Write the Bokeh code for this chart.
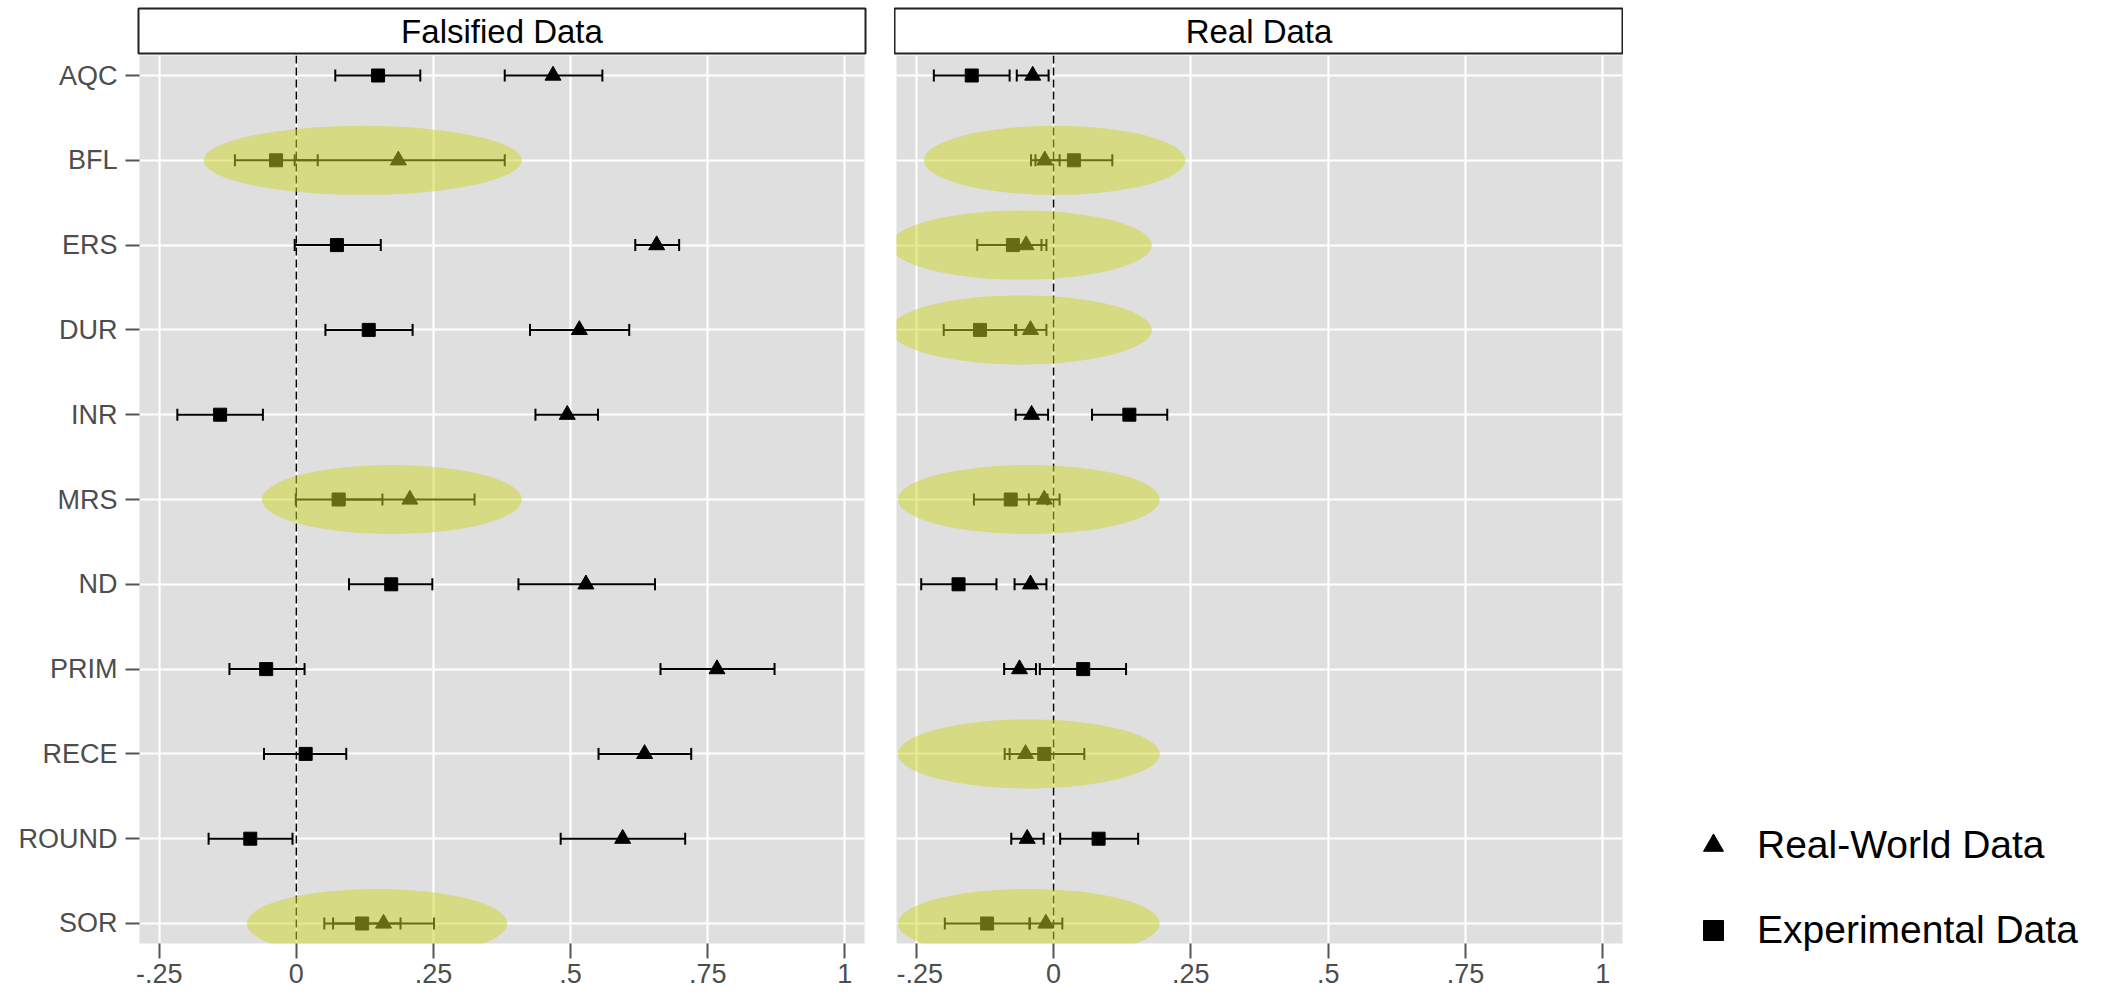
from bokeh.plotting import figure
from bokeh.models import (ColumnDataSource, Range1d, FixedTicker, Whisker, TeeHead,
                          Span, Legend, LegendItem, Label, Grid)
from bokeh.layouts import column, row
from bokeh.embed import file_html
from bokeh.resources import INLINE

# ---------------- data ----------------
categories = ["AQC", "BFL", "ERS", "DUR", "INR", "MRS", "ND", "PRIM", "RECE", "ROUND", "SOR"]
panels = ["Falsified Data", "Real Data"]
series_names = ["Real-World Data", "Experimental Data"]

# Falsified Data panel
fals_rw_est = [0.468, 0.186, 0.657, 0.516, 0.494, 0.207, 0.528, 0.767, 0.635, 0.595, 0.159]
fals_rw_lo = [0.380, -0.003, 0.618, 0.426, 0.436, 0.088, 0.405, 0.664, 0.551, 0.482, 0.067]
fals_rw_hi = [0.558, 0.380, 0.698, 0.607, 0.550, 0.325, 0.654, 0.872, 0.720, 0.709, 0.251]
fals_ex_est = [0.149, -0.037, 0.074, 0.132, -0.139, 0.077, 0.173, -0.055, 0.017, -0.084, 0.120]
fals_ex_lo = [0.071, -0.112, -0.003, 0.053, -0.217, -0.001, 0.096, -0.122, -0.059, -0.160, 0.051]
fals_ex_hi = [0.226, 0.039, 0.154, 0.212, -0.061, 0.157, 0.248, 0.015, 0.091, -0.007, 0.190]

# Real Data panel
real_rw_est = [-0.038, -0.016, -0.050, -0.042, -0.040, -0.017, -0.042, -0.062, -0.051, -0.048, -0.014]
real_rw_lo = [-0.067, -0.041, -0.078, -0.070, -0.069, -0.045, -0.071, -0.090, -0.080, -0.077, -0.043]
real_rw_hi = [-0.009, 0.011, -0.022, -0.013, -0.010, 0.011, -0.013, -0.032, -0.022, -0.018, 0.016]
real_ex_est = [-0.149, 0.037, -0.074, -0.134, 0.138, -0.078, -0.173, 0.054, -0.017, 0.082, -0.121]
real_ex_lo = [-0.218, -0.033, -0.139, -0.200, 0.070, -0.145, -0.241, -0.025, -0.089, 0.012, -0.198]
real_ex_hi = [-0.080, 0.107, -0.013, -0.068, 0.207, -0.011, -0.104, 0.132, 0.056, 0.154, -0.044]

# highlighted (ellipse) rows
hl_fals_cats = ["BFL", "MRS", "SOR"]
hl_fals_center = [0.121, 0.174, 0.147]
hl_fals_width = [0.580, 0.474, 0.475]
hl_real_cats = ["BFL", "ERS", "DUR", "MRS", "RECE", "SOR"]
hl_real_center = [0.002, -0.059, -0.059, -0.045, -0.045, -0.045]
hl_real_width = [0.476, 0.476, 0.476, 0.477, 0.477, 0.477]

x_ticks = [-0.25, 0, 0.25, 0.5, 0.75, 1]
x_tick_labels = ["-.25", "0", ".25", ".5", ".75", "1"]

# ---------------- style ----------------
FONT = "Liberation Sans"
PANEL_BG = "#DFDFDF"
HL_COLOR = (206, 214, 40)
X_RANGE = (-0.286, 1.036)
Y_PAD = 0.236
FRAME_W_L, FRAME_W_R, FRAME_H = 725, 726, 888

ypos = list(range(len(categories)))


def make_panel(rw_est, rw_lo, rw_hi, ex_est, ex_lo, ex_hi, hl_cats, hl_center, hl_width,
               first):
    kw = dict(frame_width=FRAME_W_L if first else FRAME_W_R, frame_height=FRAME_H,
              x_range=Range1d(*X_RANGE),
              y_range=Range1d(len(categories) - 1 + Y_PAD, -Y_PAD),
              output_backend="svg", toolbar_location=None,
              background_fill_color=PANEL_BG, border_fill_color="white",
              outline_line_color=None, min_border=0, min_border_bottom=50)
    if first:
        kw.update(min_border_left=139, min_border_right=32)
    else:
        kw.update(min_border_left=0, min_border_right=480, y_axis_location=None)
    p = figure(**kw)

    # x axis
    p.xaxis.ticker = FixedTicker(ticks=x_ticks)
    p.xaxis.major_label_overrides = {t: l for t, l in zip(x_ticks, x_tick_labels)}
    p.xaxis.axis_line_color = None
    p.xaxis.major_tick_in = 0
    p.xaxis.major_tick_out = 15
    p.xaxis.minor_tick_out = 0
    p.xaxis.minor_tick_in = 0
    p.xaxis.major_tick_line_color = "#555555"
    p.xaxis.major_tick_line_width = 2
    p.xaxis.major_label_standoff = 5
    p.xaxis.major_label_text_font = FONT
    p.xaxis.major_label_text_font_size = "27px"
    p.xaxis.major_label_text_color = "#4D4D4D"
    p.xgrid.ticker = FixedTicker(ticks=x_ticks)
    p.xgrid.grid_line_color = "white"
    p.xgrid.grid_line_width = 2.2

    if first:
        p.yaxis.ticker = FixedTicker(ticks=ypos)
        p.yaxis.major_label_overrides = {i: c for i, c in zip(ypos, categories)}
        p.yaxis.axis_line_color = None
        p.yaxis.major_tick_in = 0
        p.yaxis.major_tick_out = 14
        p.yaxis.minor_tick_out = 0
        p.yaxis.minor_tick_in = 0
        p.yaxis.major_tick_line_color = "#555555"
        p.yaxis.major_tick_line_width = 2
        p.yaxis.major_label_standoff = 8
        p.yaxis.major_label_text_font = FONT
        p.yaxis.major_label_text_font_size = "27px"
        p.yaxis.major_label_text_color = "#4D4D4D"
        p.ygrid.ticker = FixedTicker(ticks=ypos)
        p.ygrid.grid_line_color = "white"
        p.ygrid.grid_line_width = 2.2
    else:
        g = Grid(dimension=1, ticker=FixedTicker(ticks=ypos),
                 grid_line_color="white", grid_line_width=2.2)
        p.add_layout(g)

    p.add_layout(Span(location=0, dimension="height", line_color="black",
                      line_dash="8 4", line_width=1.5, level="underlay"))

    rw = ColumnDataSource(dict(y=ypos, est=rw_est, lo=rw_lo, hi=rw_hi))
    ex = ColumnDataSource(dict(y=ypos, est=ex_est, lo=ex_lo, hi=ex_hi))
    for src in (rw, ex):
        p.add_layout(Whisker(source=src, base="y", lower="lo", upper="hi",
                             dimension="width", line_color="black", line_width=2,
                             upper_head=TeeHead(size=12, line_color="black", line_width=2),
                             lower_head=TeeHead(size=12, line_color="black", line_width=2)))
    r_tri = p.scatter(x="est", y="y", source=rw, marker="triangle", size=16,
                      fill_color="black", line_color="black")
    r_sq = p.scatter(x="est", y="y", source=ex, marker="square", size=13,
                     fill_color="black", line_color="black")

    hl = ColumnDataSource(dict(y=[categories.index(c) for c in hl_cats],
                               x=hl_center, w=hl_width))
    p.ellipse(x="x", y="y", width="w", height=0.814, source=hl,
              fill_color=HL_COLOR, fill_alpha=0.5, line_color=None)
    return p, r_tri, r_sq


def make_strip(text, first):
    kw = dict(frame_width=727 if first else 729, frame_height=45,
              x_range=Range1d(0, 1), y_range=Range1d(0, 1),
              x_axis_type=None, y_axis_type=None,
              output_backend="svg", toolbar_location=None,
              background_fill_color="white", border_fill_color="white",
              outline_line_color="#222222", outline_line_width=2,
              min_border=0, min_border_top=8, min_border_bottom=2)
    if first:
        kw.update(min_border_left=138, min_border_right=29)
    s = figure(**kw)
    s.xgrid.visible = False
    s.ygrid.visible = False
    s.add_layout(Label(x=0.5, y=0.5, text=text, text_align="center",
                       text_baseline="middle", text_font=FONT,
                       text_font_size="33px", text_color="black"))
    return s


p_left, _, _ = make_panel(fals_rw_est, fals_rw_lo, fals_rw_hi,
                          fals_ex_est, fals_ex_lo, fals_ex_hi,
                          hl_fals_cats, hl_fals_center, hl_fals_width, True)
p_right, tri_r, sq_r = make_panel(real_rw_est, real_rw_lo, real_rw_hi,
                                  real_ex_est, real_ex_lo, real_ex_hi,
                                  hl_real_cats, hl_real_center, hl_real_width, False)

legend = Legend(items=[LegendItem(label=series_names[0], renderers=[tri_r]),
                       LegendItem(label=series_names[1], renderers=[sq_r])],
                location=(66, -12), glyph_width=50, glyph_height=50,
                label_height=50, spacing=35, label_standoff=19, padding=0, margin=40,
                label_text_font=FONT, label_text_font_size="39px",
                label_text_color="black", border_line_color=None,
                background_fill_alpha=0)
p_right.add_layout(legend, "right")

s_left = make_strip(panels[0], True)
s_right = make_strip(panels[1], False)

layout = column(row(s_left, s_right), row(p_left, p_right))

open("out.html", "w").write(file_html(layout, INLINE))
